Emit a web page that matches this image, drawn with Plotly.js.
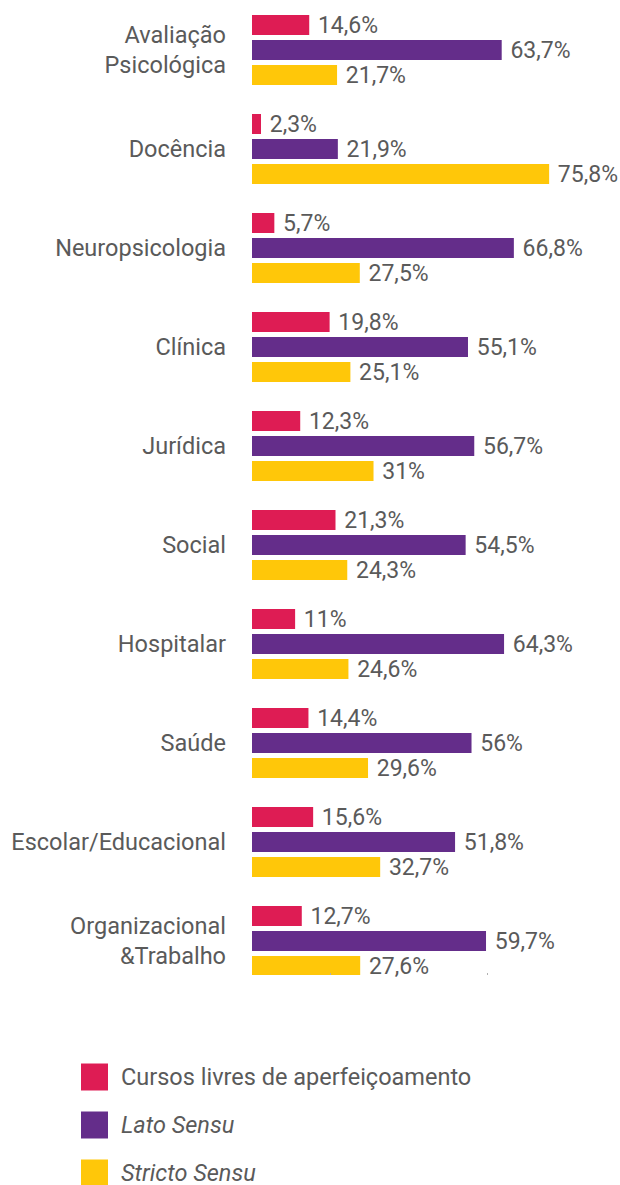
<!DOCTYPE html>
<html>
<head>
<meta charset="utf-8">
<script src="https://cdn.plot.ly/plotly-3.0.1.min.js"></script>
<style>html,body{margin:0;padding:0;background:#fff;}#chart{width:620px;height:1185px;}</style>
</head>
<body>
<div id="chart"></div>
<script>
const categories = [
  "Avaliação<br>Psicológica", "Docência", "Neuropsicologia", "Clínica", "Jurídica",
  "Social", "Hospitalar", "Saúde", "Escolar/Educacional", "Organizacional<br>&amp;Trabalho"
];
const seriesNames = ["Cursos livres de aperfeiçoamento", "<i>Lato Sensu</i>", "<i>Stricto Sensu</i>"];
const cursosLivres = [14.6, 2.3, 5.7, 19.8, 12.3, 21.3, 11, 14.4, 15.6, 12.7];
const latoSensu    = [63.7, 21.9, 66.8, 55.1, 56.7, 54.5, 64.3, 56, 51.8, 59.7];
const strictoSensu = [21.7, 75.8, 27.5, 25.1, 31, 24.3, 24.6, 29.6, 32.7, 27.6];
const colors = ["#DE1C54", "#642D8A", "#FFC709"];
const xTicks = [0, 20, 60];

const W = 620, H = 1185;
const plotLeft = 252, plotBottom = 975, pxPerUnit = 3.92, catPitch = 99, firstCenter = 50;
const fontFam = "Roboto, 'Open Sans', sans-serif";
const textCol = "#5a5a5a";

function fmt(v) { return "\u00a0" + String(v).replace(".", ",") + "%"; }

const seriesVals = [cursosLivres, latoSensu, strictoSensu];
const traces = seriesVals.map((vals, i) => ({
  type: "bar", orientation: "h",
  x: vals, y: categories,
  name: seriesNames[i],
  marker: { color: colors[i], line: { width: 0 } },
  text: vals.map(fmt),
  textposition: "outside",
  constraintext: "none",
  cliponaxis: false,
  textfont: { family: fontFam, size: 23, color: textCol },
  hoverinfo: "skip",
  showlegend: false,
  xaxis: "x", yaxis: "y"
}));

// custom legend (squares) on an auxiliary pixel-space axis
const legendX = 94.5, legendY0 = 1077, legendStep = 48, legendTextX = 119;
seriesNames.forEach((n, i) => {
  traces.push({
    type: "scatter", mode: "markers",
    x: [legendX], y: [legendY0 + i * legendStep],
    marker: { symbol: "square", size: 27, color: colors[i], line: { width: 0 } },
    hoverinfo: "skip", showlegend: false,
    xaxis: "x2", yaxis: "y2"
  });
});
const annotations = seriesNames.map((n, i) => ({
  xref: "x2", yref: "y2", x: legendTextX, y: legendY0 + i * legendStep,
  xanchor: "left", yanchor: "middle", text: n, showarrow: false,
  font: { family: fontFam, size: 23.5, color: textCol }
}));

const layout = {
  width: W, height: H,
  margin: { l: 0, r: 0, t: 0, b: 0 },
  paper_bgcolor: "#fff", plot_bgcolor: "rgba(0,0,0,0)",
  barmode: "group", bargap: 0.2424, bargroupgap: 0.2,
  showlegend: false,
  font: { family: fontFam, color: textCol },
  xaxis: {
    domain: [plotLeft / W, 1],
    range: [0, (W - plotLeft) / pxPerUnit],
    showgrid: false, zeroline: false, showline: false,
    tickvals: xTicks, ticks: "inside", ticklen: 2, tickcolor: "#b0b0b0", tickwidth: 1,
    showticklabels: false, fixedrange: true
  },
  yaxis: {
    domain: [1 - plotBottom / H, 1],
    type: "category",
    range: [(plotBottom - firstCenter) / catPitch, -firstCenter / catPitch],
    showgrid: false, zeroline: false, showline: false, ticks: "",
    ticklabelstandoff: 25,
    tickfont: { family: fontFam, size: 23.5, color: textCol },
    fixedrange: true
  },
  xaxis2: { domain: [0, 1], range: [0, W], visible: false, anchor: "y2", fixedrange: true },
  yaxis2: { domain: [0, 1], range: [H, 0], visible: false, anchor: "x2", fixedrange: true },
  annotations: annotations
};

Plotly.newPlot("chart", traces, layout, { staticPlot: true, displayModeBar: false });
</script>
</body>
</html>
